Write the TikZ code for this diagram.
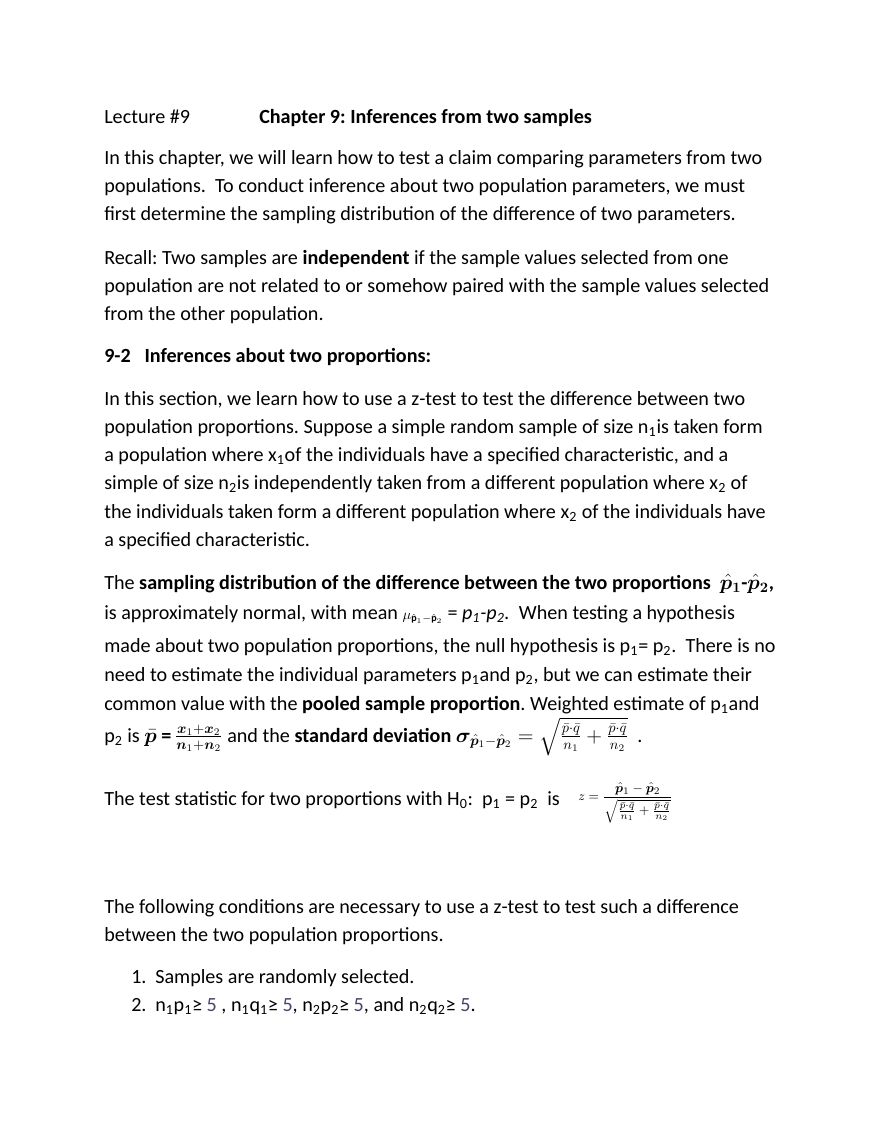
\documentclass[tikz,border=0pt]{standalone}
\usepackage{fontspec}
\setmainfont{Carlito}
\usepackage{amsmath}
\usepackage{bm}
\usetikzlibrary{positioning}

\newcommand\lo[1]{\textsubscript{#1}}
\definecolor{fivegray}{RGB}{70,70,105}
\frenchspacing

\begin{document}
\begin{tikzpicture}[x=0.6955pt,y=-0.6955pt,
    line node/.style={anchor=base west,inner sep=0pt,font=\fontsize{14}{16}\selectfont},
    head node/.style={line node,font=\fontsize{14}{16}\selectfont\bfseries}]

  \useasboundingbox (0,0) rectangle (880,1139);

  \node[line node] (lec)  at (104,123) {Lecture \#9};
  \node[head node] (chap) at (259,123) {Chapter 9: Inferences from two samples};

  \node[line node] (intro1) at (104,164) {In this chapter, we will learn how to test a claim comparing parameters from two};
  \node[line node] (intro2) at (104,192) {populations.\ \ To conduct inference about two population parameters, we must};
  \node[line node] (intro3) at (104,220) {first determine the sampling distribution of the difference of two parameters.};

  \node[line node] (rec1) at (104,264) {Recall: Two samples are \textbf{independent} if the sample values selected from one};
  \node[line node] (rec2) at (104,292) {population are not related to or somehow paired with the sample values selected};
  \node[line node] (rec3) at (104,320) {from the other population.};

  \node[head node] (sec) at (104,362) {9-2\ \ \ Inferences about two proportions:};

  \node[line node] (sec1) at (104,405) {In this section, we learn how to use a z-test to test the difference between two};
  \node[line node] (sec2) at (104,433) {population proportions. Suppose a simple random sample of size n\lo{1}is taken form};
  \node[line node] (sec3) at (104,461) {a population where x\lo{1}of the individuals have a specified characteristic, and a};
  \node[line node] (sec4) at (104,489) {simple of size n\lo{2}is independently taken from a different population where x\lo{2} of};
  \node[line node] (sec5) at (104,518) {the individuals taken form a different population where x\lo{2} of the individuals have};
  \node[line node] (sec6) at (104,546) {a specified characteristic.};

  \node[line node] (dist1) at (104,589) {The \textbf{sampling distribution of the difference between the two proportions}\ \ $\hat{\bm p}_{\bm 1}$\textbf{-}$\hat{\bm p}_{\bm 2}$\textbf{,}};
  \node[line node] (dist2) at (104,619) {is approximately normal, with mean {\fontsize{10}{11}\selectfont$\mu_{\hat{\mathbf p}_1-\hat{\mathbf p}_2}$} = \textit{p\lo{1}-p\lo{2}.}\ \ When testing a hypothesis};
  \node[line node] (dist3) at (104,652) {made about two population proportions, the null hypothesis is p\lo{1}= p\lo{2}.\ \ There is no};
  \node[line node] (dist4) at (104,681) {need to estimate the individual parameters p\lo{1}and p\lo{2}, but we can estimate their};
  \node[line node] (dist5) at (104,710) {common value with the \textbf{pooled sample proportion}. Weighted estimate of p\lo{1}and};
  \node[line node] (dist6) at (104,742) {p\lo{2} is \textbf{$\bar{\bm p}$ =}\,$\frac{\bm x_1+\bm x_2}{\bm n_1+\bm n_2}$ and the \textbf{standard deviation} $\bm\sigma_{\hat{\bm p}_1-\hat{\bm p}_2}=\sqrt{\frac{\bar p\cdot\bar q}{n_1}+\frac{\bar p\cdot\bar q}{n_2}}$\ \ .};

  \node[line node] (test) at (104,805) {The test statistic for two proportions with H\lo{0}:\ \ p\lo{1} = p\lo{2}\ \ is};
  \node[anchor=west,inner sep=0pt] (zform) at (578,803)
    {\fontsize{9.5}{10}\selectfont$z=\dfrac{\hat{\bm p}_1-\hat{\bm p}_2}{\sqrt{\frac{\bar p\cdot\bar q}{n_1}+\frac{\bar p\cdot\bar q}{n_2}}}$};

  \node[line node] (cond1) at (104,913) {The following conditions are necessary to use a z-test to test such a difference};
  \node[line node] (cond2) at (104,941) {between the two population proportions.};

  \node[line node] (num1)  at (131,983) {1.};
  \node[line node] (item1) at (155,983) {Samples are randomly selected.};
  \node[line node] (num2)  at (131,1011) {2.};
  \node[line node] (item2) at (155,1011) {n\lo{1}p\lo{1}≥ \textcolor{fivegray}{5} , n\lo{1}q\lo{1}≥ \textcolor{fivegray}{5}, n\lo{2}p\lo{2}≥ \textcolor{fivegray}{5}, and n\lo{2}q\lo{2}≥ \textcolor{fivegray}{5}.};

\end{tikzpicture}
\end{document}
